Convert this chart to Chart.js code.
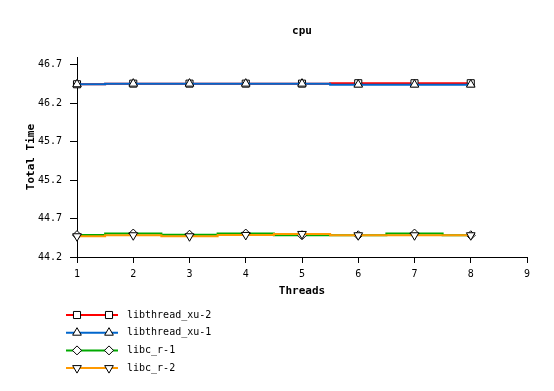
<!DOCTYPE html>
<html>
<head>
<meta charset="utf-8">
<script src="https://cdn.jsdelivr.net/npm/chart.js@4"></script>
<style>
  html, body { margin: 0; padding: 0; background: #fff; }
  #wrap { width: 554px; height: 391px; }
</style>
</head>
<body>
<div id="wrap"><canvas id="cpuChart" width="554" height="391"></canvas></div>
<script>
// data
const threads = [1, 2, 3, 4, 5, 6, 7, 8];
const libthreadXu2 = [46.448, 46.456, 46.456, 46.456, 46.456, 46.461, 46.461, 46.461];
const libthreadXu1 = [46.448, 46.456, 46.456, 46.456, 46.456, 46.443, 46.443, 46.443];
const libcR1 = [44.485, 44.505, 44.490, 44.505, 44.483, 44.483, 44.505, 44.483];
const libcR2 = [44.470, 44.483, 44.470, 44.487, 44.500, 44.483, 44.483, 44.483];
const yTicks = [44.2, 44.7, 45.2, 45.7, 46.2, 46.7];
const xTicks = [1, 2, 3, 4, 5, 6, 7, 8, 9];

const mono = "'DejaVu Sans Mono', monospace";

function series(label, values, color, style, rotation, order) {
    return {
        label: label,
        data: threads.map((t, i) => ({ x: t, y: values[i] })),
        borderColor: color,
        backgroundColor: '#fff',
        borderWidth: 2,
        stepped: 'middle',
        clip: false,
        pointStyle: style,
        rotation: rotation,
        pointRadius: style === 'rectRot' ? 4.5 : 5,
        pointBackgroundColor: '#fff',
        pointBorderColor: '#000',
        pointBorderWidth: 1,
        order: order
    };
}

// legend: line with two markers, one row per series
const lineLegend = {
    id: 'lineLegend',
    afterDraw: (chart) => {
        const ctx = chart.ctx;
        ctx.save();
        chart.data.datasets.forEach((ds, i) => {
            const y = 315 + i * 17.7;
            ctx.beginPath();
            ctx.moveTo(66, y);
            ctx.lineTo(118, y);
            ctx.lineWidth = 2;
            ctx.strokeStyle = ds.borderColor;
            ctx.stroke();
            [77, 109].forEach(x => {
                ctx.fillStyle = '#fff';
                ctx.strokeStyle = '#000';
                ctx.lineWidth = 1;
                Chart.helpers.drawPoint(ctx, {
                    pointStyle: ds.pointStyle,
                    rotation: ds.rotation,
                    radius: ds.pointRadius,
                    borderWidth: 1
                }, x, y);
            });
            ctx.fillStyle = '#000';
            ctx.font = '10px ' + mono;
            ctx.textBaseline = 'middle';
            ctx.textAlign = 'left';
            ctx.fillText(ds.label, 127, y);
        });
        ctx.restore();
    }
};

const cpuChart = new Chart(document.getElementById('cpuChart').getContext('2d'), {
    type: 'line',
    data: {
        datasets: [
            series('libthread_xu-2', libthreadXu2, '#ff0000', 'rect', 0, 4),
            series('libthread_xu-1', libthreadXu1, '#0066cc', 'triangle', 0, 3),
            series('libc_r-1', libcR1, '#00aa00', 'rectRot', 0, 2),
            series('libc_r-2', libcR2, '#ff9900', 'triangle', 180, 1)
        ]
    },
    options: {
        responsive: false,
        animation: false,
        layout: { padding: { left: 25, right: 27, top: 0, bottom: 93 } },
        scales: {
            x: {
                type: 'linear',
                min: 1,
                max: 9,
                afterBuildTicks: (scale) => { scale.ticks = xTicks.map(v => ({ value: v })); },
                afterFit: (scale) => { scale.height = 41; },
                ticks: { color: '#000', font: { family: mono, size: 10 }, padding: 5, maxRotation: 0 },
                grid: { drawOnChartArea: false, drawTicks: true, tickLength: 6, color: '#000' },
                border: { color: '#000', width: 1 },
                title: { display: true, text: 'Threads', color: '#000', font: { family: mono, size: 11, weight: 'bold' }, padding: { top: 0, bottom: 0 } }
            },
            y: {
                type: 'linear',
                min: 44.2,
                max: 46.8,
                afterBuildTicks: (scale) => { scale.ticks = yTicks.map(v => ({ value: v })); },
                afterFit: (scale) => { scale.width = 52; },
                ticks: { color: '#000', font: { family: mono, size: 10 }, padding: 8, callback: (v) => v.toFixed(1) },
                grid: { drawOnChartArea: false, drawTicks: true, tickLength: 7, color: '#000' },
                border: { color: '#000', width: 1 },
                title: { display: true, text: 'Total Time', color: '#000', font: { family: mono, size: 11, weight: 'bold' }, padding: { top: 0, bottom: 0 } }
            }
        },
        plugins: {
            legend: { display: false },
            tooltip: { enabled: false },
            title: {
                display: true,
                fullSize: false,
                text: 'cpu',
                color: '#000',
                font: { family: mono, size: 11, weight: 'bold' },
                padding: { top: 25, bottom: 19 }
            }
        }
    },
    plugins: [lineLegend]
});
</script>
</body>
</html>
